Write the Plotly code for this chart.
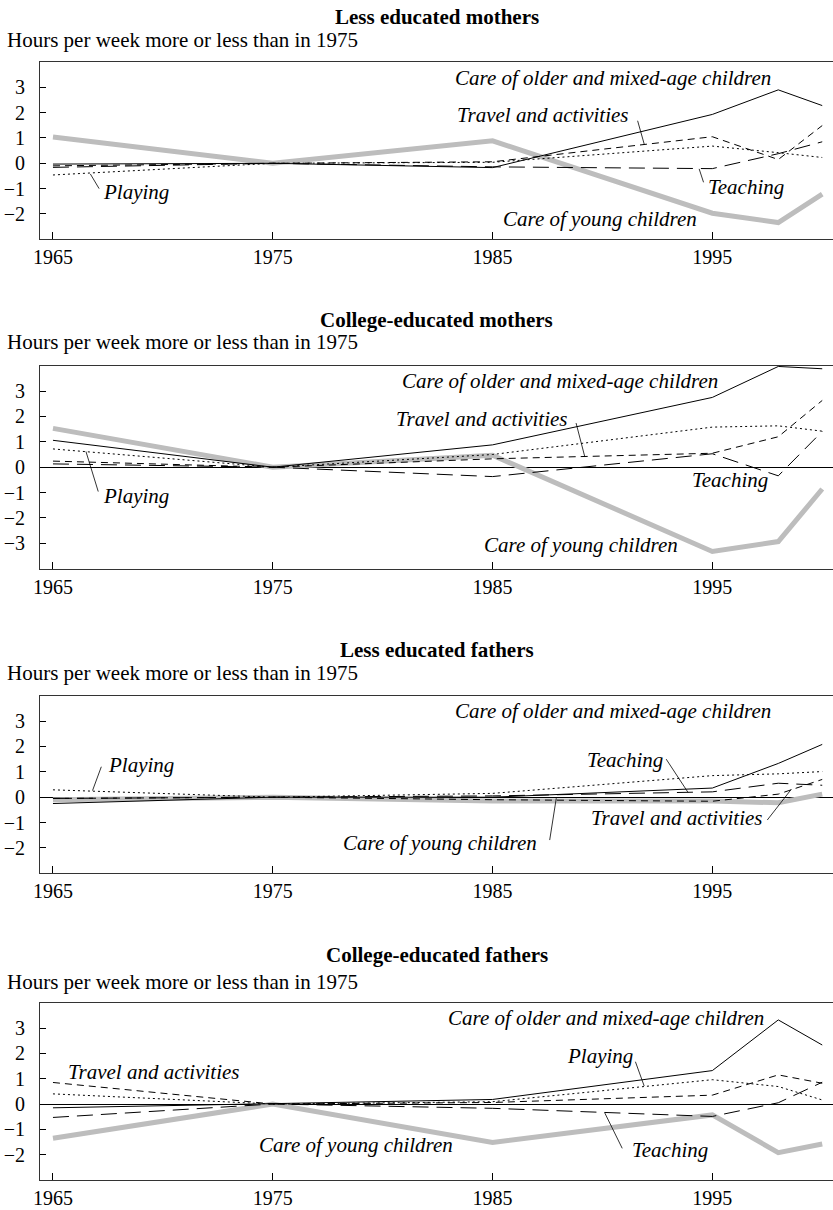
import plotly.graph_objects as go

# ---------------- data ----------------
years = [1965, 1975, 1985, 1995, 1998, 2000]
x_ticks = [1965, 1975, 1985, 1995]

panel_titles = ["Less educated mothers", "College-educated mothers",
                "Less educated fathers", "College-educated fathers"]
subtitle = "Hours per week more or less than in 1975"

# Less educated mothers
older_lm = [-0.03, 0, -0.17, 1.93, 2.90, 2.28]
young_lm = [1.04, 0, 0.89, -1.97, -2.34, -1.22]
travel_lm = [-0.10, 0, 0.06, 1.05, 0.15, 1.49]
playing_lm = [-0.46, 0, 0.04, 0.68, 0.42, 0.23]
teaching_lm = [-0.16, 0, -0.14, -0.21, 0.38, 0.85]

# College-educated mothers
older_cm = [1.06, 0, 0.88, 2.75, 3.97, 3.88]
young_cm = [1.53, 0, 0.47, -3.32, -2.93, -0.86]
travel_cm = [0.24, 0, 0.33, 0.55, 1.20, 2.63]
playing_cm = [0.72, 0, 0.50, 1.58, 1.63, 1.42]
teaching_cm = [0.13, 0, -0.37, 0.53, -0.34, 1.41]

# Less educated fathers
older_lf = [-0.25, 0, 0.00, 0.36, 1.33, 2.08]
young_lf = [-0.10, 0, -0.15, -0.15, -0.22, 0.12]
travel_lf = [-0.05, 0, -0.10, -0.16, 0.12, 0.70]
playing_lf = [0.29, 0, 0.15, 0.85, 0.92, 1.01]
teaching_lf = [-0.05, 0, 0.05, 0.21, 0.55, 0.47]

# College-educated fathers
older_cf = [-0.15, 0, 0.18, 1.32, 3.32, 2.33]
young_cf = [-1.35, 0, -1.52, -0.43, -1.92, -1.58]
travel_cf = [0.85, 0, 0.06, 0.35, 1.15, 0.82]
playing_cf = [0.40, 0, 0.09, 0.96, 0.69, 0.16]
teaching_cf = [-0.53, 0, -0.17, -0.49, 0.05, 0.86]

panels = [
    dict(young=young_lm, older=older_lm, travel=travel_lm, playing=playing_lm, teaching=teaching_lm),
    dict(young=young_cm, older=older_cm, travel=travel_cm, playing=playing_cm, teaching=teaching_cm),
    dict(young=young_lf, older=older_lf, travel=travel_lf, playing=playing_lf, teaching=teaching_lf),
    dict(young=young_cf, older=older_cf, travel=travel_cf, playing=playing_cf, teaching=teaching_cf),
]

# ---------------- styling / layout ----------------
W, H = 833, 1210
FONT = "Liberation Serif, Times New Roman, DejaVu Serif, serif"
styles = {
    "young": dict(color="#bdbdbd", width=5, dash="solid"),
    "older": dict(color="black", width=1, dash="solid"),
    "travel": dict(color="black", width=1, dash="7px,5px"),
    "playing": dict(color="black", width=1, dash="2px,3px"),
    "teaching": dict(color="black", width=1, dash="16px,8px"),
}
order = ["young", "older", "playing", "travel", "teaching"]

# plot box pixel extents (top, bottom) and y ranges
boxes = [(62, 239.3), (365.7, 568.7), (695.7, 873.3), (1002.7, 1180)]
yranges = [[-3, 4], [-4, 4], [-3, 4], [-3, 4]]
ytickvals = [[-2, -1, 0, 1, 2, 3], [-3, -2, -1, 0, 1, 2, 3],
             [-2, -1, 0, 1, 2, 3], [-2, -1, 0, 1, 2, 3]]
zerolines = [False, True, True, True]
title_y = [16.5, 320, 650, 955]
sub_y = [40, 342, 673, 982]

# labels: (text, x_left(year), y(value), leader or None)
labels = [
    [("Care of older and mixed-age children", 1983.2, 3.37, None),
     ("Travel and activities", 1983.3, 1.92, (1991.6, 1.68, 1991.9, 0.76)),
     ("Teaching", 1994.7, -0.95, (1994.4, -0.22, 1994.6, -0.75)),
     ("Care of young children", 1985.4, -2.2, None),
     ("Playing", 1967.2, -1.12, (1966.7, -0.42, 1967.1, -1.0))],
    [("Care of older and mixed-age children", 1980.8, 3.39, None),
     ("Travel and activities", 1980.5, 1.9, (1988.8, 1.74, 1989.2, 0.4)),
     ("Playing", 1967.2, -1.13, (1966.5, 0.62, 1967.06, -0.96)),
     ("Teaching", 1994.0, -0.5, None),
     ("Care of young children", 1984.5, -3.07, None)],
    [("Care of older and mixed-age children", 1983.2, 3.38, None),
     ("Teaching", 1989.2, 1.47, (1992.9, 1.5, 1993.9, 0.18)),
     ("Travel and activities", 1989.4, -0.83, (1997.5, -0.9, 1998.6, 0.32)),
     ("Care of young children", 1978.1, -1.82, (1987.6, -1.69, 1987.9, -0.04)),
     ("Playing", 1967.4, 1.28, (1966.8, 0.26, 1967.2, 1.2))],
    [("Care of older and mixed-age children", 1982.9, 3.39, None),
     ("Playing", 1988.3, 1.91, (1991.5, 1.67, 1991.9, 0.71)),
     ("Travel and activities", 1965.6, 1.25, None),
     ("Teaching", 1991.25, -1.82, (1990.1, -0.34, 1990.9, -1.75)),
     ("Care of young children", 1974.3, -1.62, None)],
]

fig = go.Figure()
annotations = []
shapes = []
layout_axes = {}

for i, p in enumerate(panels):
    n = "" if i == 0 else str(i + 1)
    xa, ya = "x" + n, "y" + n
    for key in order:
        fig.add_trace(go.Scatter(x=years, y=p[key], mode="lines",
                                 line=styles[key], xaxis=xa, yaxis=ya,
                                 showlegend=False, hoverinfo="skip"))
    top, bot = boxes[i]
    layout_axes["xaxis" + n] = dict(
        domain=[0, 1], anchor=ya, range=[1964.41, 2000.49],
        tickvals=x_ticks, ticks="inside", ticklen=7, tickwidth=1, tickcolor="black",
        showline=True, linecolor="#333333", linewidth=1, mirror=True,
        showgrid=False, zeroline=False, ticklabelstandoff=0,
        tickfont=dict(family=FONT, size=20, color="black"))
    layout_axes["yaxis" + n] = dict(
        domain=[1 - bot / H, 1 - top / H], anchor=xa, range=yranges[i],
        tickvals=ytickvals[i], ticks="inside", ticklen=6, tickwidth=1, tickcolor="black",
        showline=True, linecolor="#333333", linewidth=1, mirror=False,
        showgrid=False, zeroline=zerolines[i], zerolinecolor="black", zerolinewidth=1,
        ticklabelstandoff=10,
        tickfont=dict(family=FONT, size=20, color="black"))
    annotations.append(dict(text="<b>%s</b>" % panel_titles[i], xref="paper", yref="paper",
                            x=0.5, y=1 - title_y[i] / H, xanchor="center", yanchor="middle",
                            showarrow=False, font=dict(family=FONT, size=21, color="black")))
    annotations.append(dict(text=subtitle, xref="paper", yref="paper",
                            x=-35 / (W - 40), y=1 - sub_y[i] / H, xanchor="left", yanchor="middle",
                            showarrow=False, font=dict(family=FONT, size=21, color="black")))
    for text, lx, ly, leader in labels[i]:
        annotations.append(dict(text=text, xref=xa, yref=ya, x=lx, y=ly,
                                xanchor="left", yanchor="middle", showarrow=False,
                                font=dict(family=FONT, size=21, color="black", style="italic")))
        if leader:
            x0, y0, x1, y1 = leader
            shapes.append(dict(type="line", xref=xa, yref=ya, x0=x0, y0=y0, x1=x1, y1=y1,
                               line=dict(color="black", width=0.8)))

fig.update_layout(width=W, height=H, margin=dict(l=40, r=0, t=0, b=0),
                  paper_bgcolor="white", plot_bgcolor="white",
                  annotations=annotations, shapes=shapes, showlegend=False,
                  **layout_axes)

fig.write_html("out.html", config={"displayModeBar": False},
               post_script="document.body.style.margin='0';")
